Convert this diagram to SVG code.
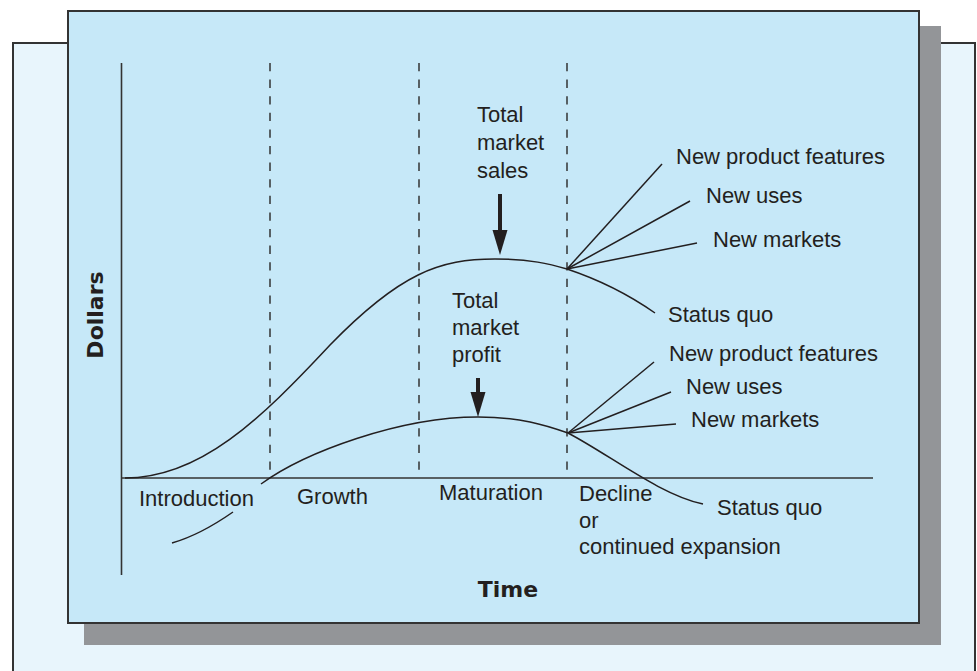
<svg xmlns="http://www.w3.org/2000/svg" width="977" height="671" viewBox="0 0 977 671">
<style>
.t{font-family:"Liberation Sans",Arial,sans-serif;font-size:22px;fill:#231f20}
.b{font-family:"DejaVu Sans","Liberation Sans",sans-serif;font-weight:bold;font-size:22px;fill:#231f20}
.crv{fill:none;stroke:#231f20;stroke-width:1.5}
.ax{fill:none;stroke:#333;stroke-width:1.6}
.dash{fill:none;stroke:#333;stroke-width:1.5;stroke-dasharray:8.3 8.3}
.arr{fill:#231f20}
</style>
<g id="background">
<rect x="13" y="43" width="962" height="640" fill="#e8f5fc" stroke="#333" stroke-width="2"/>
<rect x="84" y="26" width="857" height="619" fill="#939598"/>
<rect x="68" y="11" width="851" height="612" fill="#c6e8f8" stroke="#333" stroke-width="2"/>
</g>
<g id="axes">
<line class="ax" x1="121.5" y1="63" x2="121.5" y2="575"/>
<line class="ax" x1="121.5" y1="478" x2="873" y2="478"/>
<text class="b" transform="translate(103,315) rotate(-90)" text-anchor="middle">Dollars</text>
<text class="b" x="508" y="597" text-anchor="middle">Time</text>
</g>
<g id="stages">
<line class="dash" x1="270" y1="63" x2="270" y2="478"/>
<line class="dash" x1="419" y1="63" x2="419" y2="478"/>
<line class="dash" x1="567" y1="63" x2="567" y2="478"/>
<text class="t" x="139" y="506">Introduction</text>
<text class="t" x="297" y="504">Growth</text>
<text class="t" x="439" y="500">Maturation</text>
<text class="t" x="579" y="501">Decline</text>
<text class="t" x="579" y="528">or</text>
<text class="t" x="579" y="554">continued expansion</text>
</g>
<g id="sales">
<path class="crv" d="M125,478 C200,478 260,420 330,345 C400,273 440,259 495,259 C530,259 550,264 567,269"/>
<text class="t" x="477" y="122">Total</text>
<text class="t" x="477" y="150">market</text>
<text class="t" x="477" y="178">sales</text>
<rect class="arr" x="498" y="194" width="4" height="38"/>
<polygon class="arr" points="492.5,230 507.5,230 500,255"/>
</g>
<g id="profit">
<path class="crv" d="M172,543 Q200,535 233,512"/>
<path class="crv" d="M261,484 C305,452 400,417 478,417 C520,417 545,425 568,433"/>
<text class="t" x="452" y="308">Total</text>
<text class="t" x="452" y="335">market</text>
<text class="t" x="452" y="362">profit</text>
<rect class="arr" x="476" y="378" width="4" height="16"/>
<polygon class="arr" points="470.5,392 485.5,392 478,417"/>
</g>
<g id="connectors">
<line class="crv" x1="567" y1="269" x2="662" y2="164"/>
<line class="crv" x1="567" y1="269" x2="690" y2="201"/>
<line class="crv" x1="567" y1="269" x2="697" y2="243"/>
<path class="crv" d="M567,269 Q615,285 655,313"/>
<line class="crv" x1="568" y1="433" x2="654" y2="362"/>
<line class="crv" x1="568" y1="433" x2="671" y2="392"/>
<line class="crv" x1="568" y1="433" x2="676" y2="424"/>
<path class="crv" d="M568,433 C610,455 660,495 703,504"/>
</g>
<g id="sales-outcomes">
<text class="t" x="676" y="164">New product features</text>
<text class="t" x="706" y="203">New uses</text>
<text class="t" x="713" y="247">New markets</text>
<text class="t" x="668" y="322">Status quo</text>
</g>
<g id="profit-outcomes">
<text class="t" x="669" y="361">New product features</text>
<text class="t" x="686" y="394">New uses</text>
<text class="t" x="691" y="427">New markets</text>
<text class="t" x="717" y="515">Status quo</text>
</g>
</svg>
